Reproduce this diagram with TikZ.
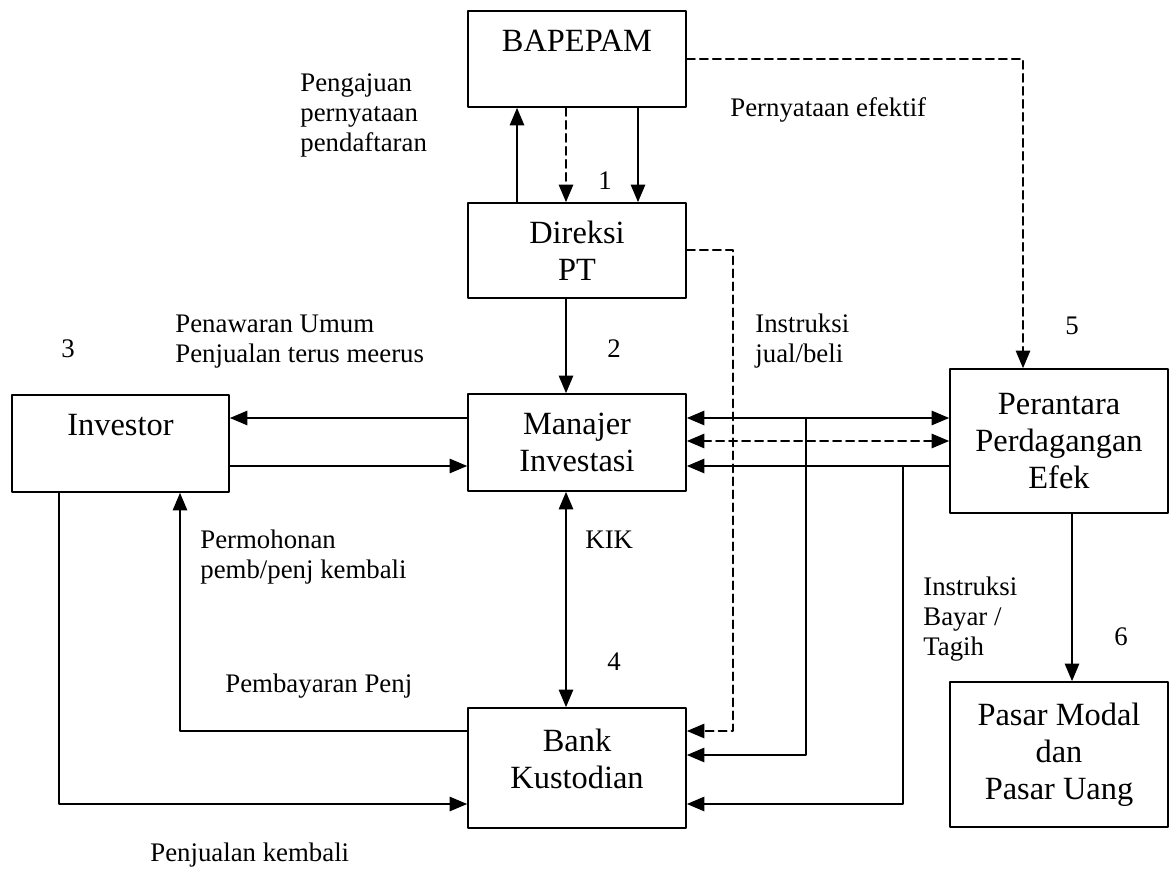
\documentclass[tikz,border=0pt]{standalone}
\usepackage{fontspec}
\setmainfont{Liberation Serif}
\usepackage{pgf,tikz}
\usetikzlibrary{arrows}

\begin{document}
\begin{tikzpicture}[line cap=round,line join=round,>=triangle 45,x=0.5pt,y=0.5pt,
		kotak/.style={draw,line width=0.9pt,minimum width=109pt,inner sep=0pt,align=center,font=\fontsize{16.2}{18.5}\selectfont},
		ket/.style={inner sep=0pt,align=left,font=\fontsize{13.4}{15}\selectfont},
		garis/.style={line width=1pt},
		putus/.style={dash pattern=on 4pt off 2.5pt}]
	\useasboundingbox (0,0) rectangle (1176,868);
		\node[kotak,minimum height=48pt] (bapepam) at (577,809) {BAPEPAM\\~};
		\node[kotak,minimum height=47.5pt] (direksi) at (577,617.5) {Direksi\\PT};
		\node[kotak,minimum height=48.5pt] (manajer) at (577,425.5) {Manajer\\Investasi};
		\node[kotak,minimum height=60pt] (bank) at (577,100) {Bank\\Kustodian\\[-9pt]~};
		\node[kotak,minimum height=48.5pt,minimum width=108.5pt] (investor) at (120.5,424.5) {Investor\\~};
		\node[kotak,minimum height=72pt] (perantara) at (1059,427) {Perantara\\Perdagangan\\Efek};
		\node[kotak,minimum height=72.5pt] (pasar) at (1059,113.5) {Pasar Modal\\dan\\Pasar Uang};
		\coordinate (naik) at (517,0);
		\coordinate (tengah) at (566,0);
		\coordinate (turun) at (638,0);
		\coordinate (efektif) at (1023,0);
		\coordinate (jualbeli) at (733,0);
		\coordinate (bayarA) at (806,0);
		\coordinate (bayarB) at (903,0);
		\coordinate (invA) at (59,0);
		\coordinate (invB) at (180,0);
		\coordinate (lajur) at (1072,0);
		\coordinate (r1) at (0,450);
		\coordinate (r2) at (0,427);
		\coordinate (r3) at (0,402);
		\coordinate (k1) at (0,137);
		\coordinate (k2) at (0,113);
		\coordinate (k3) at (0,64);
		\draw[garis,->] (direksi.north -| naik) -- (bapepam.south -| naik);
		\draw[garis,putus,->] (bapepam.south -| tengah) -- (direksi.north -| tengah);
		\draw[garis,->] (bapepam.south -| turun) -- (direksi.north -| turun);
		\draw[garis,putus,->] (bapepam.east) -| (perantara.north -| efektif);
		\draw[garis,->] (direksi.south -| tengah) -- (manajer.north -| tengah);
		\draw[garis,putus,->] (direksi.east) -| (jualbeli |- k1) -- (bank.east |- k1);
		\draw[garis,->] (manajer.west |- r1) -- (investor.east |- r1);
		\draw[garis,->] (investor.east |- r3) -- (manajer.west |- r3);
		\draw[garis,<->] (manajer.east |- r1) -- (perantara.west |- r1);
		\draw[garis,putus,<->] (manajer.east |- r2) -- (perantara.west |- r2);
		\draw[garis,->] (perantara.west |- r3) -- (manajer.east |- r3);
		\draw[garis,->] (bayarA |- r1) |- (bank.east |- k2);
		\draw[garis,->] (bayarB |- r3) |- (bank.east |- k3);
		\draw[garis,<->] (manajer.south -| tengah) -- (bank.north -| tengah);
		\draw[garis,->] (investor.south -| invA) |- (bank.west |- k3);
		\draw[garis,->] (bank.west |- k1) -| (investor.south -| invB);
		\draw[garis,->] (perantara.south -| lajur) -- (pasar.north -| lajur);
		\node[ket,anchor=west] (pengajuan) at (300,753) {Pengajuan\\pernyataan\\pendaftaran};
		\node[ket] (satu) at (605,687) {1};
		\node[ket,anchor=west] (pernyataan) at (730,758) {Pernyataan efektif};
		\node[ket,anchor=west] (penawaran) at (175,526.5) {Penawaran Umum\\Penjualan terus meerus};
		\node[ket] (tiga) at (68,519) {3};
		\node[ket] (dua) at (614,519) {2};
		\node[ket,anchor=west] (instruksi) at (755,527) {Instruksi\\jual/beli};
		\node[ket] (lima) at (1072,542) {5};
		\node[ket,anchor=west] (kik) at (585,328) {KIK};
		\node[ket,anchor=west] (permohonan) at (200,311) {Permohonan\\pemb/penj kembali};
		\node[ket] (empat) at (614,206) {4};
		\node[ket,anchor=west] (pembayaran) at (225,182) {Pembayaran Penj};
		\node[ket,anchor=west] (tagih) at (923,249) {Instruksi\\Bayar /\\Tagih};
		\node[ket] (enam) at (1121,231) {6};
		\node[ket,anchor=west] (kembali) at (150,13) {Penjualan kembali};
	\end{tikzpicture}
\end{document}
